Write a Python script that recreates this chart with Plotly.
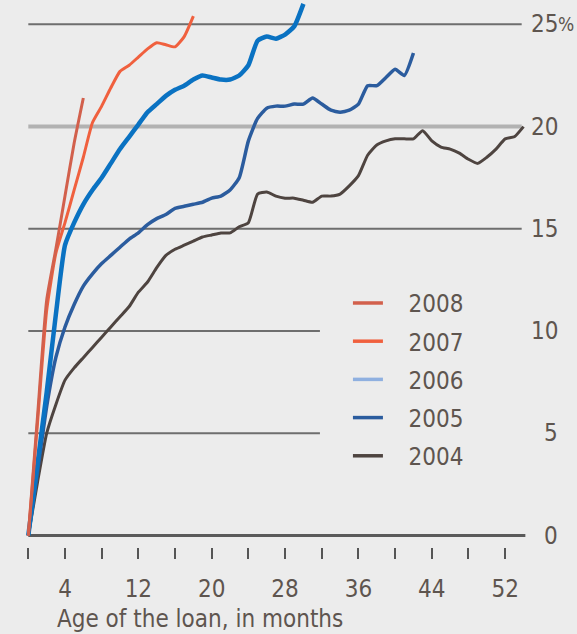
import plotly.graph_objects as go

# Cumulative default rate (%) by age of loan (months), one list per origination year
months_label = "Age of the loan, in months"
years = ["2004", "2005", "2006", "2007", "2008"]

rate_2004 = [0, 2.6, 5.0, 6.4, 7.6, 8.2, 8.7, 9.2, 9.7, 10.2,
             10.7, 11.2, 11.9, 12.4, 13.1, 13.7, 14.0, 14.2, 14.4, 14.6,
             14.7, 14.8, 14.8, 15.1, 15.3, 16.7, 16.8, 16.6, 16.5, 16.5,
             16.4, 16.3, 16.6, 16.6, 16.7, 17.1, 17.6, 18.6, 19.1, 19.3,
             19.4, 19.4, 19.4, 19.8, 19.3, 19.0, 18.9, 18.7, 18.4, 18.2,
             18.5, 18.9, 19.4, 19.5, 20.0]
rate_2005 = [0, 3.1, 6.3, 8.7, 10.2, 11.3, 12.2, 12.8, 13.3, 13.7,
             14.1, 14.5, 14.8, 15.2, 15.5, 15.7, 16.0, 16.1, 16.2, 16.3,
             16.5, 16.6, 16.9, 17.5, 19.3, 20.4, 20.9, 21.0, 21.0, 21.1,
             21.1, 21.4, 21.1, 20.8, 20.7, 20.8, 21.1, 22.0, 22.0, 22.4,
             22.8, 22.5, 23.6]
rate_2006 = [0, 3.5, 7.0, 10.8, 14.2, 15.3, 16.2, 16.9, 17.5, 18.2,
             18.9, 19.5, 20.1, 20.7, 21.1, 21.5, 21.8, 22.0, 22.3, 22.5,
             22.4, 22.3, 22.3, 22.5, 23.0, 24.2, 24.4, 24.3, 24.5, 24.9,
             26.0]
rate_2007 = [0, 5.5, 11.0, 13.8, 15.3, 16.9, 18.5, 20.2, 21.0, 21.9,
             22.7, 23.0, 23.4, 23.8, 24.1, 24.0, 23.9, 24.4, 25.4]
rate_2008 = [0, 5.8, 11.5, 14.0, 16.6, 19.2, 21.4]

series = [rate_2004, rate_2005, rate_2006, rate_2007, rate_2008]

line_colors = ["#4e4440", "#2b5c9e", "#0a72c2", "#f0603e", "#d2604c"]
legend_colors = ["#4e4440", "#2b5c9e", "#8fb0e0", "#f0603e", "#d2604c"]
line_widths = [3, 3.5, 4.5, 3, 3]

x_tick_vals = list(range(0, 53, 4))
x_tick_text = [str(v) if v % 8 == 4 else "" for v in x_tick_vals]
y_tick_vals = [0, 5, 10, 15, 20, 25]
grid_long = [15, 25]
grid_highlight = [20]
grid_short = [5, 10]

FONT = "DejaVu Sans Condensed, sans-serif"
TEXT = "#5e554f"
BG = "#ececec"
FS = 24

fig = go.Figure()

for yr, vals, col, w in zip(years, series, line_colors, line_widths):
    fig.add_trace(go.Scatter(
        x=list(range(len(vals))), y=vals, mode="lines",
        line=dict(color=col, width=w, shape="spline", smoothing=0.5),
        showlegend=False, hoverinfo="skip",
    ))

# legend-only entries, newest year on top
for yr, col in reversed(list(zip(years, legend_colors))):
    fig.add_trace(go.Scatter(
        x=[None], y=[None], mode="lines", name="\u00a0\u00a0\u00a0" + yr,
        legendgroup=yr, line=dict(color=col, width=3.5), showlegend=True,
    ))

shapes = []
for v in grid_long:
    shapes.append(dict(type="line", xref="x", yref="y", x0=0, x1=53.8, y0=v, y1=v,
                       line=dict(color="#6e6e6e", width=2), layer="below"))
for v in grid_highlight:
    shapes.append(dict(type="line", xref="x", yref="y", x0=0, x1=53.8, y0=v, y1=v,
                       line=dict(color="#b2b2b2", width=4), layer="below"))
for v in grid_short:
    shapes.append(dict(type="line", xref="x", yref="y", x0=0, x1=31.8, y0=v, y1=v,
                       line=dict(color="#6e6e6e", width=2), layer="below"))
shapes.append(dict(type="line", xref="x", yref="y", x0=0, x1=54.2, y0=0, y1=0,
                   line=dict(color="#5a5a5a", width=3), layer="below"))

annotations = []
for v in y_tick_vals:
    annotations.append(dict(xref="paper", yref="y", x=1.0656, y=v, text=str(v),
                            xanchor="right", yanchor="middle", showarrow=False,
                            font=dict(family=FONT, size=FS, color=TEXT)))
annotations.append(dict(xref="paper", yref="y", x=1.0577, y=25, text="%",
                        xanchor="left", yanchor="middle", showarrow=False,
                        font=dict(family=FONT, size=19, color=TEXT)))
annotations.append(dict(xref="paper", yref="paper", x=0.0616, y=-0.1316, text=months_label,
                        xanchor="left", yanchor="middle", showarrow=False,
                        font=dict(family=FONT, size=FS, color=TEXT)))

fig.update_layout(
    width=577, height=634,
    margin=dict(l=24, r=50, t=0, b=87),
    paper_bgcolor=BG, plot_bgcolor=BG,
    shapes=shapes, annotations=annotations,
    legend=dict(x=0.644, y=0.4865, xanchor="left", yanchor="top",
                traceorder="grouped", tracegroupgap=4,
                bgcolor="rgba(0,0,0,0)", font=dict(family=FONT, size=FS, color=TEXT),
                itemwidth=30),
    xaxis=dict(range=[-0.47, 54.38], showgrid=False, zeroline=False, showline=False,
               tickmode="array", tickvals=x_tick_vals, ticktext=x_tick_text,
               ticks="outside", ticklen=11, tickwidth=2, tickcolor="#555555",
               tickfont=dict(family=FONT, size=FS, color=TEXT), ticklabelstandoff=9),
    yaxis=dict(range=[-0.56, 26.19], showgrid=False, zeroline=False, showline=False,
               showticklabels=False, ticks=""),
)

fig.write_html("out.html")
